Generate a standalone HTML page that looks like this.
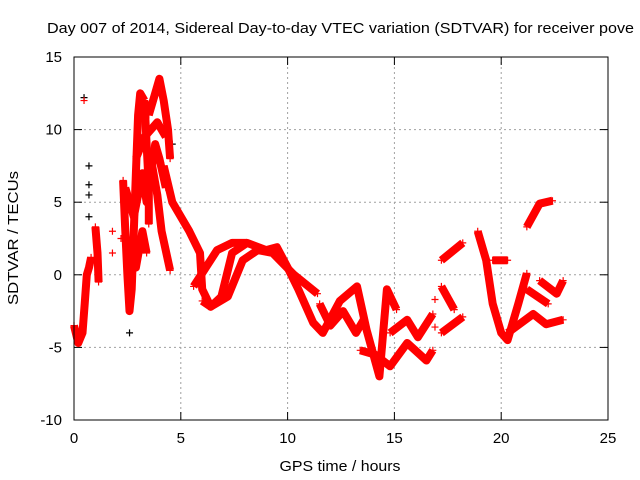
<!DOCTYPE html>
<html><head><meta charset="utf-8"><style>
body{margin:0;background:#fff;}
svg{display:block;font-family:"Liberation Sans",sans-serif;}
</style></head><body>
<svg id="chart" width="640" height="480" viewBox="0 0 640 480">
<rect width="640" height="480" fill="#fff"/>
<text x="47" y="33" font-size="15" textLength="587" lengthAdjust="spacingAndGlyphs" fill="#000">Day 007 of 2014, Sidereal Day-to-day VTEC variation (SDTVAR) for receiver pove</text>
<g id="grid"></g>
<g id="ticks"></g>
<g id="marks"></g>
<rect x="74" y="57" width="534" height="363" fill="none" stroke="#000" stroke-width="1"/>
<text x="18" y="238" font-size="15" textLength="134" lengthAdjust="spacingAndGlyphs" text-anchor="middle" transform="rotate(-90 18 238)">SDTVAR / TECUs</text>
<text x="340" y="471" font-size="15" textLength="121" lengthAdjust="spacingAndGlyphs" text-anchor="middle">GPS time / hours</text>
</svg>
<script>
const xTicks=[0,5,10,15,20,25];
const yTicks=[-10,-5,0,5,10,15];
// traces: arrays of [hour, TECU]
const traceEarly=[[0,-3.5],[0.2,-4.7],[0.4,-4],[0.5,-2],[0.6,0],[0.7,0.5],[0.8,1.2]];
const traceEarly2=[[1.0,3.3],[1.1,1.5],[1.15,-0.5]];
const traceA=[[2.3,6.5],[2.4,3],[2.5,0],[2.6,-2.5],[2.7,-1],[2.8,3],[2.9,7],[3.0,11],[3.1,12.5],[3.3,12]];
const traceB=[[3.3,12],[3.4,9],[3.5,6],[3.5,3.5]];
const traceC=[[3.5,11],[3.8,12.5],[4.0,13.5],[4.2,12],[4.4,10],[4.5,8]];
const traceD=[[3.6,8],[3.9,5.5],[4.1,3],[4.5,0.3]];
const traceFill1=[[2.4,6],[2.8,4],[3.2,7],[3.4,5],[3.8,9],[4.0,8],[4.3,6]];
const traceFill2=[[2.9,8],[3.3,9.5],[3.6,10],[3.9,10.5],[4.3,9.5]];
const traceFill3=[[2.6,2],[2.9,0.5],[3.2,3],[3.4,1.5]];
const traceE=[[4.2,7.5],[4.6,5],[5.0,4],[5.4,3],[5.9,1.5],[6.0,-1],[6.4,-2.2],[6.9,-1.5],[7.4,1.5],[8.1,2.2],[9.0,1.7],[9.5,1.9],[10.0,0.5],[10.5,-1],[11.2,-3.3],[11.65,-4.0],[12.45,-1.8],[13.25,-0.8],[13.7,-3.8],[14.3,-7.0],[14.65,-1.0],[15.1,-2.4]];
const traceF=[[5.6,-0.8],[6.7,1.7],[7.4,2.2],[8.1,2.2]];
const traceG=[[6.0,-1.8],[6.4,-2.2],[7.2,-1.5],[7.9,1.0],[8.6,1.7],[9.3,1.5],[10.3,0],[11.4,-1.3]];
const traceS=[[11.5,-2],[12.0,-3.5],[12.6,-2.5],[13.2,-4],[13.6,-3]];
const traceH=[[13.4,-5.2],[14.1,-5.5],[14.8,-6.3],[15.6,-4.7],[16.5,-5.9],[16.8,-5.2]];
const traceI=[[14.8,-4.0],[15.6,-3.1],[16.1,-4.3],[16.8,-2.7]];
const traceJ=[[17.2,1.0],[18.2,2.2]];
const traceK=[[17.2,-0.8],[17.8,-2.4]];
const traceL=[[17.2,-4.0],[18.2,-2.9]];
const traceM=[[18.9,3.0],[19.3,1.0],[19.6,-2],[20.0,-4],[20.3,-4.5],[20.8,-2],[21.2,0.1]];
const traceN=[[20.3,-4],[21.5,-2.7],[22.1,-3.4],[22.9,-3.1]];
const traceO=[[21.8,-0.4],[22.6,-1.3],[22.9,-0.4]];
const traceP=[[21.2,-1.0],[22.2,-2.0]];
const traceQ=[[19.6,1.0],[20.3,1.0]];
const traceR=[[21.2,3.3],[21.8,4.9],[22.4,5.1]];
const traces=[traceEarly,traceEarly2,traceA,traceB,traceC,traceD,traceFill1,traceFill2,traceFill3,traceE,traceF,traceG,traceS,traceH,traceI,traceJ,traceK,traceL,traceM,traceN,traceO,traceP,traceQ,traceR];
const blackPts=[[0.47,12.2],[0.7,7.5],[0.7,6.2],[0.7,5.5],[0.7,4.0],[2.6,-4.0],[4.6,9]];
const redPts=[[0.47,12.0],[1.8,3],[1.8,1.5],[2.2,2.5],[16.9,-1.7],[16.9,-3.6]];

const X=h=>74+h*534/25;
const Y=v=>57+(15-v)*363/25;
const NS='http://www.w3.org/2000/svg';
const grid=document.getElementById('grid'),ticks=document.getElementById('ticks'),marks=document.getElementById('marks');
function mk(tag,attrs,parent){const e=document.createElementNS(NS,tag);for(const k in attrs)e.setAttribute(k,attrs[k]);parent.appendChild(e);return e;}
xTicks.forEach(t=>{
  const x=X(t);
  if(t>0&&t<25){const g=mk('line',{x1:x,x2:x,y1:57,y2:420,stroke:'#a0a0a0','stroke-dasharray':'2,3'},grid);
  
  }
  mk('line',{x1:x,x2:x,y1:420,y2:412,stroke:'#000'},ticks);
  mk('line',{x1:x,x2:x,y1:57,y2:65,stroke:'#000'},ticks);
  const l=mk('text',{x:x,y:443,'font-size':15,'text-anchor':'middle'},ticks);l.textContent=t;
  
  
});
yTicks.forEach(t=>{
  const y=Y(t);
  if(t>-10&&t<15){const g=mk('line',{x1:74,x2:608,y1:y,y2:y,stroke:'#a0a0a0','stroke-dasharray':'2,3'},grid);
  
  }
  mk('line',{x1:74,x2:82,y1:y,y2:y,stroke:'#000'},ticks);
  mk('line',{x1:600,x2:608,y1:y,y2:y,stroke:'#000'},ticks);
  const l=mk('text',{x:62,y:y+5,'font-size':15,'text-anchor':'end'},ticks);l.textContent=t;
  
  
});
function plus(p,color){
  const x=X(p[0]),y=Y(p[1]);
  const e=mk('path',{d:`M${x-3.5},${y}H${x+3.5}M${x},${y-3.5}V${y+3.5}`,stroke:color,'stroke-width':1.2,fill:'none'},marks);
  
  
}
blackPts.forEach(p=>plus(p,'#000'));
traces.forEach(tr=>{
  const d=tr.map((p,i)=>(i?'L':'M')+X(p[0]).toFixed(1)+','+Y(p[1]).toFixed(1)).join('');
  const e=mk('path',{d:d,stroke:'#ff0000','stroke-width':8,fill:'none','stroke-linejoin':'round','stroke-linecap':'butt'},marks);
  
  
  tr.forEach(p=>plus(p,'#ff0000'));
});
redPts.forEach(p=>plus(p,'#ff0000'));
</script>
</body></html>
